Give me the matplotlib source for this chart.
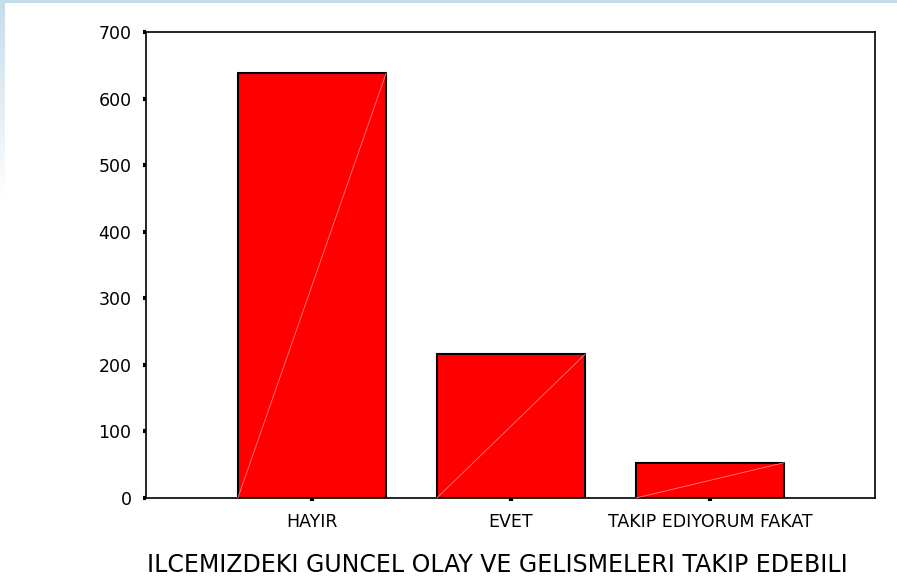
import numpy as np
import matplotlib
matplotlib.use("Agg")
import matplotlib.pyplot as plt

# chart data
categories = ["HAYIR", "EVET", "TAKIP EDIYORUM FAKAT"]
counts = [638, 216, 53]
y_ticks = [0, 100, 200, 300, 400, 500, 600, 700]
x_title = "ILCEMIZDEKI GUNCEL OLAY VE GELISMELERI TAKIP EDEBILI"

plt.rcParams["font.family"] = ["DejaVu Sans"]

fig = plt.figure(figsize=(8.97, 5.86), dpi=100)
fig.patch.set_facecolor("white")

# light blue frame pieces (top band and fading left strip)
bg = fig.add_axes([0, 0, 1, 1], zorder=-5)
bg.set_xlim(0, 897)
bg.set_ylim(586, 0)
bg.axis("off")
strip = np.linspace(0, 1, 200).reshape(-1, 1)
strip_img = np.ones((200, 1, 4))
strip_img[:, 0, 0] = 0.78
strip_img[:, 0, 1] = 0.86
strip_img[:, 0, 2] = 0.92
strip_img[:, 0, 3] = 1 - strip[:, 0]
bg.imshow(strip_img, extent=[0, 5, 200, 0], aspect="auto")
bg.add_patch(plt.Rectangle((0, 0), 897, 2.5, color="#c3dcea", lw=0))

ax = fig.add_axes([146 / 897, 88 / 586, 729 / 897, 466 / 586])
x = np.arange(1, len(categories) + 1)
width = 0.745
ax.bar(x, counts, width, color="#ff0000", edgecolor="black", linewidth=1.5, zorder=2)

# faint diagonal line inside each bar
for xi, c in zip(x, counts):
    ax.plot([xi - width / 2, xi + width / 2], [0, c], color="#ff8080", lw=0.6, zorder=3)

ax.set_xlim(x[0] - 0.834, x[-1] + 0.829)
ax.set_ylim(0, 700)
ax.set_yticks(y_ticks)
ax.set_xticks(x, categories)

for side in ["left", "right", "top", "bottom"]:
    ax.spines[side].set_linewidth(1.2)

ax.tick_params(axis="y", direction="out", length=2.5, width=3, pad=8, labelsize=12.5)
ax.tick_params(axis="x", direction="out", length=2.5, width=3, pad=8, labelsize=12.5)

fig.text(147 / 897, 1 - 565 / 586, x_title, fontsize=17, ha="left", va="center")

fig.savefig("out.png", dpi=100)
